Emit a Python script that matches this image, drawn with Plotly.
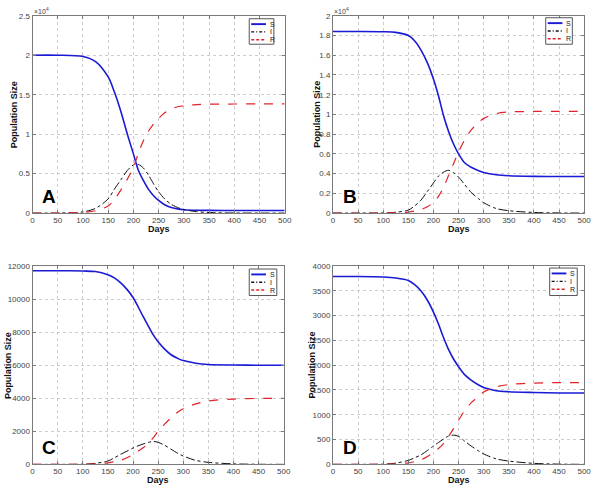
import plotly.graph_objects as go

W, H = 601, 488

days = [0, 50, 100, 125, 150, 162, 175, 188, 200, 210, 220, 230, 240, 250, 262, 275, 290, 300, 325, 350, 400, 450, 500]

# Panel A
S_A = [20000, 20000, 19850, 19200, 17250, 15400, 12900, 10000, 7500, 5400, 4100, 3000, 2200, 1600, 1050, 700, 500, 430, 360, 340, 330, 330, 330]
I_A = [0, 5, 150, 600, 1800, 3000, 4200, 5400, 6100, 6150, 5700, 4800, 3700, 2700, 1800, 1100, 650, 450, 180, 70, 10, 0, 0]
R_A = [0, 5, 80, 300, 900, 1700, 2900, 4300, 5800, 7600, 9200, 10400, 11300, 12000, 12700, 13200, 13500, 13600, 13750, 13800, 13820, 13830, 13830]

# Panel B
S_B = [18400, 18400, 18380, 18320, 18000, 17500, 16550, 15220, 13600, 11900, 9900, 8300, 7000, 6000, 5100, 4650, 4300, 4120, 3880, 3780, 3720, 3700, 3700]
I_B = [0, 0, 20, 80, 300, 700, 1300, 2200, 3050, 3750, 4150, 4340, 4100, 3650, 2900, 2100, 1450, 1050, 460, 240, 60, 15, 0]
R_B = [0, 0, 5, 30, 100, 200, 360, 650, 1100, 1700, 2600, 3800, 5000, 6200, 7400, 8400, 9200, 9600, 10080, 10250, 10300, 10300, 10300]

# Panel C
S_C = [11720, 11720, 11700, 11670, 11480, 11300, 11000, 10590, 10100, 9550, 8950, 8400, 7850, 7420, 7000, 6650, 6400, 6280, 6120, 6040, 6010, 6000, 6000]
I_C = [0, 0, 10, 60, 200, 380, 600, 800, 990, 1120, 1230, 1320, 1390, 1330, 1170, 930, 650, 500, 240, 120, 30, 5, 0]
R_C = [0, 0, 5, 30, 90, 150, 240, 400, 600, 800, 1000, 1250, 1600, 2000, 2400, 2800, 3180, 3370, 3660, 3840, 3950, 3990, 4000]

# Panel D
S_D = [3790, 3790, 3780, 3760, 3710, 3630, 3500, 3310, 3070, 2830, 2560, 2320, 2125, 1970, 1810, 1700, 1600, 1550, 1485, 1465, 1450, 1440, 1440]
I_D = [0, 0, 5, 25, 80, 130, 190, 280, 370, 440, 510, 570, 590, 565, 470, 370, 270, 210, 110, 66, 20, 5, 0]
R_D = [0, 0, 3, 10, 30, 55, 90, 160, 240, 320, 420, 560, 720, 890, 1080, 1240, 1370, 1460, 1564, 1610, 1640, 1650, 1650]

x_ticks = [0, 50, 100, 150, 200, 250, 300, 350, 400, 450, 500]
yt_A = [0, 5000, 10000, 15000, 20000, 25000]
yl_A = ["0", "0.5", "1", "1.5", "2", "2.5"]
yt_B = [0, 2000, 4000, 6000, 8000, 10000, 12000, 14000, 16000, 18000, 20000]
yl_B = ["0", "0.2", "0.4", "0.6", "0.8", "1", "1.2", "1.4", "1.6", "1.8", "2"]
yt_C = [0, 2000, 4000, 6000, 8000, 10000, 12000]
yl_C = [str(v) for v in yt_C]
yt_D = [0, 500, 1000, 1500, 2000, 2500, 3000, 3500, 4000]
yl_D = [str(v) for v in yt_D]

panel_letters = ["A", "B", "C", "D"]
series_names = ["S", "I", "R"]

# axes boxes in pixels: (left, top, right, bottom)
boxes = [(31, 12, 287, 213), (336, 12, 591, 213), (31, 267, 286, 469), (336, 267, 591, 469)]
# legend boxes in pixels: (left, top, width, height)
leg_boxes = [(251, 15, 25, 26), (552, 14, 27, 27), (251, 270, 28, 27), (556, 269, 28, 28)]
ytitle_x = [13, 320, 6, 315]

data = [(S_A, I_A, R_A, yt_A, yl_A), (S_B, I_B, R_B, yt_B, yl_B),
        (S_C, I_C, R_C, yt_C, yl_C), (S_D, I_D, R_D, yt_D, yl_D)]

styles = [dict(color="#1a1ad6", width=1.6, dash="solid"),
          dict(color="#111111", width=1.0, dash="dashdot"),
          dict(color="#e0222a", width=1.2, dash="dash")]

FONT = "Liberation Sans, Arial, sans-serif"

def px(x):
    return x / W

def py(y):
    return 1 - y / H

fig = go.Figure()
shapes = []
annotations = []

for k in range(4):
    S, I, R, yt, yl = data[k]
    ax = "" if k == 0 else str(k + 1)
    xa = "x" + ax
    ya = "y" + ax
    for vals, name, st in zip((S, I, R), series_names, styles):
        fig.add_trace(go.Scatter(x=days, y=vals, mode="lines", name=name,
                                 line=dict(color=st["color"], width=st["width"], dash=st["dash"],
                                           shape="spline", smoothing=0.8),
                                 xaxis=xa, yaxis=ya, showlegend=False, hoverinfo="skip"))
    l, t, r, b = boxes[k]
    common = dict(showgrid=True, gridcolor="#cccccc", griddash="dot", gridwidth=1,
                  showline=True, linecolor="#7a7a7a", linewidth=1, mirror="allticks",
                  ticks="inside", ticklen=3, tickcolor="#7a7a7a",
                  tickfont=dict(family=FONT, size=8, color="#444444"), zeroline=False)
    fig.update_layout(**{
        "xaxis" + ax: dict(domain=[px(l), px(r)], range=[0, 500], tickvals=x_ticks,
                           anchor=ya, ticklabelstandoff=-1, **common),
        "yaxis" + ax: dict(domain=[py(b), py(t)], range=[yt[0], yt[-1]], tickvals=yt, ticktext=yl,
                           anchor=xa, **common),
    })
    # axis titles
    annotations.append(dict(text="<b>Days</b>", x=px((l + r) / 2), y=py(b + 16), xref="paper", yref="paper",
                            showarrow=False, font=dict(family=FONT, size=9, color="#111"),
                            xanchor="center", yanchor="middle"))
    annotations.append(dict(text="<b>Population Size</b>", x=px(ytitle_x[k]), y=py((t + b) / 2),
                            xref="paper", yref="paper", textangle=-90, showarrow=False,
                            font=dict(family=FONT, size=9, color="#111"),
                            xanchor="center", yanchor="middle"))
    # panel letter
    annotations.append(dict(text="<b>" + panel_letters[k] + "</b>", x=0.066, y=0.085,
                            xref=xa + " domain", yref=ya + " domain", showarrow=False,
                            font=dict(family=FONT, size=19, color="#000"),
                            xanchor="center", yanchor="middle"))
    if k < 2:
        annotations.append(dict(text="×10<sup>4</sup>", x=px(l - 1), y=py(t - 5), xref="paper", yref="paper",
                                showarrow=False, font=dict(family=FONT, size=7, color="#444"),
                                xanchor="left", yanchor="middle"))
    # manual legend
    lx, ly, lw, lh = leg_boxes[k]
    shapes.append(dict(type="rect", xref="paper", yref="paper", x0=px(lx), x1=px(lx + lw),
                       y0=py(ly + lh), y1=py(ly), line=dict(color="#555", width=1), fillcolor="white",
                       layer="above"))
    for j, (name, st) in enumerate(zip(series_names, styles)):
        yy = ly + 5.5 + j * 8
        dash = "solid" if st["dash"] == "solid" else ("3px,2px" if st["dash"] == "dash" else "3px,2px,1px,2px")
        shapes.append(dict(type="line", xref="paper", yref="paper", x0=px(lx + 2), x1=px(lx + 17),
                           y0=py(yy), y1=py(yy),
                           line=dict(color=st["color"], width=st["width"] + 0.3, dash=dash),
                           layer="above"))
        annotations.append(dict(text=name, x=px(lx + 19), y=py(yy), xref="paper", yref="paper",
                                showarrow=False, font=dict(family=FONT, size=7, color="#222"),
                                xanchor="left", yanchor="middle"))

fig.update_layout(width=W, height=H, margin=dict(l=0, r=0, t=0, b=0),
                  paper_bgcolor="white", plot_bgcolor="white",
                  shapes=shapes, annotations=annotations, showlegend=False)

fig.write_html("out.html", config={"displayModeBar": False},
               post_script="document.body.style.margin='0';document.body.style.padding='0';document.body.style.overflow='hidden';")
